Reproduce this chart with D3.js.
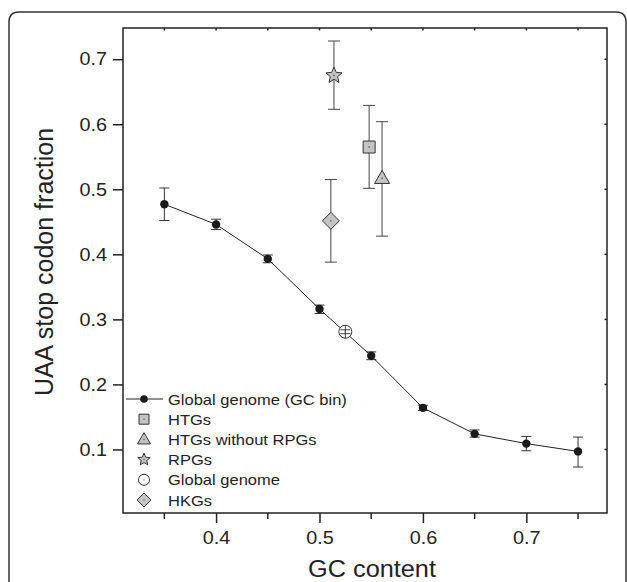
<!DOCTYPE html>
<html>
<head>
<meta charset="utf-8">
<script src="https://cdn.jsdelivr.net/npm/d3@7"></script>
<style>
  html, body { margin: 0; padding: 0; background: #fff; }
  svg { display: block; font-family: "Liberation Sans", Arial, sans-serif; }
</style>
</head>
<body>
<div id="chart"></div>
<script>
// GC bins (global genome)
const gcBins = [0.35, 0.40, 0.45, 0.50, 0.55, 0.60, 0.65, 0.70, 0.75];
const gcMean = [0.477, 0.446, 0.393, 0.316, 0.244, 0.164, 0.124, 0.109, 0.097];
const gcLow  = [0.452, 0.438, 0.387, 0.309, 0.238, 0.160, 0.119, 0.098, 0.073];
const gcHigh = [0.502, 0.454, 0.399, 0.322, 0.250, 0.168, 0.130, 0.120, 0.119];

// gene groups
const groupNames = ['HTGs', 'HTGs without RPGs', 'RPGs', 'Global genome', 'HKGs'];
const groupShape = ['square', 'triangle', 'star', 'circle', 'diamond'];
const groupGC    = [0.548, 0.5605, 0.514, 0.525, 0.511];
const groupMean  = [0.565, 0.517, 0.675, 0.281, 0.4515];
const groupLow   = [0.5015, 0.428, 0.623, 0.278, 0.388];
const groupHigh  = [0.629, 0.604, 0.728, 0.284, 0.515];

const legendLabels = ['Global genome (GC bin)', 'HTGs', 'HTGs without RPGs', 'RPGs', 'Global genome', 'HKGs'];
const legendShapes = ['line', 'square', 'triangle', 'star', 'circle', 'diamond'];

const xTicks = [0.4, 0.5, 0.6, 0.7];
const xMinor = [0.35, 0.45, 0.55, 0.65, 0.75];
const yTicks = [0.1, 0.2, 0.3, 0.4, 0.5, 0.6, 0.7];

const width = 627, height = 582;
const frame = { left: 123, right: 607, top: 28, bottom: 513 };
const STRETCH = 1.1;

const svg = d3.select('#chart').append('svg')
  .attr('width', width).attr('height', height);

// outer rounded panel
svg.append('path')
  .attr('d', 'M9,600 V22 Q9,12 19,12 H616 Q626,12 626,22 V600')
  .attr('fill', 'none').attr('stroke', '#333').attr('stroke-width', 1.5);

const x = d3.scaleLinear().domain([0.31, 0.778]).range([frame.left, frame.right]);
const y = d3.scaleLinear().domain([0.0023, 0.748]).range([frame.bottom, frame.top]);

function stretch(sel) {
  sel.each(function () {
    const w = this.getComputedTextLength();
    d3.select(this).attr('textLength', w * STRETCH).attr('lengthAdjust', 'spacingAndGlyphs');
  });
}

// axes
const gx = svg.append('g').attr('transform', `translate(0,${frame.bottom})`)
  .call(d3.axisBottom(x).tickValues(xTicks).tickSize(10).tickPadding(8).tickFormat(d3.format('.1f')));
gx.select('.domain').remove();
gx.selectAll('line').attr('stroke', '#222').attr('stroke-width', 1.5);
gx.selectAll('text').attr('font-size', 18).attr('fill', '#222').attr('font-family', null).call(stretch);

svg.append('g').selectAll('line').data(xMinor).join('line')
  .attr('x1', d => x(d)).attr('x2', d => x(d))
  .attr('y1', frame.bottom).attr('y2', frame.bottom + 6)
  .attr('stroke', '#222').attr('stroke-width', 1.5);

const gy = svg.append('g').attr('transform', `translate(${frame.left},0)`)
  .call(d3.axisLeft(y).tickValues(yTicks).tickSize(10).tickPadding(6).tickFormat(d3.format('.1f')));
gy.select('.domain').remove();
gy.selectAll('line').attr('stroke', '#222').attr('stroke-width', 1.5);
gy.selectAll('text').attr('font-size', 18).attr('fill', '#222').attr('font-family', null).call(stretch);

// mirror ticks (top / right, inward)
svg.append('g').selectAll('line').data(xTicks.concat(xMinor)).join('line')
  .attr('x1', d => x(d)).attr('x2', d => x(d))
  .attr('y1', frame.top).attr('y2', frame.top + 2.5)
  .attr('stroke', '#222').attr('stroke-width', 1.5);
svg.append('g').selectAll('line').data(yTicks).join('line')
  .attr('x1', frame.right).attr('x2', frame.right - 2.5)
  .attr('y1', d => y(d)).attr('y2', d => y(d))
  .attr('stroke', '#222').attr('stroke-width', 1.5);

// frame
svg.append('rect')
  .attr('x', frame.left).attr('y', frame.top)
  .attr('width', frame.right - frame.left).attr('height', frame.bottom - frame.top)
  .attr('fill', 'none').attr('stroke', '#222').attr('stroke-width', 1.5);

// axis titles
svg.append('text')
  .attr('x', (frame.left + frame.right) / 2 + 7).attr('y', 577)
  .attr('text-anchor', 'middle').attr('font-size', 23).attr('fill', '#222')
  .text('GC content').call(stretch);

svg.append('text')
  .attr('transform', 'translate(53,262) rotate(-90)')
  .attr('text-anchor', 'middle').attr('font-size', 25).attr('fill', '#222')
  .text('UAA stop codon fraction');

// symbol paths
function shapePath(shape, s) {
  if (shape === 'square') return d3.symbol(d3.symbolSquare, s * s)();
  if (shape === 'triangle') {
    const h = s * 0.87;
    return `M0,${-h * 0.6}L${s / 2},${h * 0.4}L${-s / 2},${h * 0.4}Z`;
  }
  if (shape === 'star') {
    const R = s / 2, r = R * 0.45;
    const pts = d3.range(10).map(i => {
      const a = -Math.PI / 2 + i * Math.PI / 5;
      const rr = i % 2 ? r : R;
      return [rr * Math.cos(a), rr * Math.sin(a)];
    });
    return 'M' + pts.join('L') + 'Z';
  }
  if (shape === 'diamond') {
    const h = s / 2;
    return `M0,${-h}L${h},0L0,${h}L${-h},0Z`;
  }
  if (shape === 'circle') return d3.symbol(d3.symbolCircle, Math.PI * (s / 2) * (s / 2))();
  return '';
}
const shapeSize = { square: 12, triangle: 15, star: 17, diamond: 17, circle: 13 };
const legendSize = { square: 10, triangle: 13, star: 13, diamond: 14, circle: 11 };

// global genome line + error bars
const bins = gcBins.map((g, i) => ({ g, m: gcMean[i], lo: gcLow[i], hi: gcHigh[i] }));
const errG = svg.append('g').attr('stroke', '#333').attr('stroke-width', 1);
bins.forEach(d => {
  errG.append('line').attr('x1', x(d.g)).attr('x2', x(d.g)).attr('y1', y(d.lo)).attr('y2', y(d.hi));
  [d.lo, d.hi].forEach(v => errG.append('line')
    .attr('x1', x(d.g) - 5).attr('x2', x(d.g) + 5).attr('y1', y(v)).attr('y2', y(v)));
});
svg.append('path').datum(bins)
  .attr('fill', 'none').attr('stroke', '#222').attr('stroke-width', 1)
  .attr('d', d3.line().x(d => x(d.g)).y(d => y(d.m)));
svg.append('g').selectAll('circle').data(bins).join('circle')
  .attr('cx', d => x(d.g)).attr('cy', d => y(d.m)).attr('r', 4.2).attr('fill', '#1a1a1a');

// groups
const groups = groupNames.map((n, i) => ({
  n, shape: groupShape[i], g: groupGC[i], m: groupMean[i], lo: groupLow[i], hi: groupHigh[i]
}));
groups.forEach(d => {
  const gg = svg.append('g');
  const capW = d.shape === 'circle' ? 5 : 6;
  gg.append('line').attr('x1', x(d.g)).attr('x2', x(d.g)).attr('y1', y(d.lo)).attr('y2', y(d.hi))
    .attr('stroke', '#444').attr('stroke-width', 1);
  const shapeEl = gg.append('path')
    .attr('transform', `translate(${x(d.g)},${y(d.m)})`)
    .attr('d', shapePath(d.shape, shapeSize[d.shape]))
    .attr('fill', d.shape === 'circle' ? '#fff' : '#c4c4c4')
    .attr('stroke', '#333').attr('stroke-width', 1);
  if (d.shape === 'circle') {
    shapeEl.lower();
    gg.append('line').attr('x1', x(d.g)).attr('x2', x(d.g)).attr('y1', y(d.m) - 6.5).attr('y2', y(d.m) + 6.5)
      .attr('stroke', '#444').attr('stroke-width', 1);
  }
  [d.lo, d.hi].forEach(v => gg.append('line')
    .attr('x1', x(d.g) - capW).attr('x2', x(d.g) + capW).attr('y1', y(v)).attr('y2', y(v))
    .attr('stroke', '#444').attr('stroke-width', 1));
  if (d.shape !== 'circle') {
    gg.append('circle').attr('cx', x(d.g)).attr('cy', y(d.m)).attr('r', 0.7).attr('fill', '#333');
  }
});

// legend
const leg = svg.append('g');
legendLabels.forEach((label, i) => {
  const cy = 399 + i * 20.2;
  const shape = legendShapes[i];
  if (shape === 'line') {
    leg.append('line').attr('x1', 126).attr('x2', 163).attr('y1', cy).attr('y2', cy)
      .attr('stroke', '#222').attr('stroke-width', 1);
    leg.append('circle').attr('cx', 144).attr('cy', cy).attr('r', 3.8).attr('fill', '#1a1a1a');
  } else {
    leg.append('path').attr('transform', `translate(144,${cy})`)
      .attr('d', shapePath(shape, legendSize[shape]))
      .attr('fill', shape === 'circle' ? '#fff' : '#c4c4c4')
      .attr('stroke', '#333').attr('stroke-width', 1);
    leg.append('circle').attr('cx', 144).attr('cy', cy).attr('r', 0.6).attr('fill', '#333');
  }
  leg.append('text').attr('x', 168).attr('y', cy + 5.5)
    .attr('font-size', 15).attr('fill', '#222')
    .text(label).call(stretch);
});
</script>
</body>
</html>
